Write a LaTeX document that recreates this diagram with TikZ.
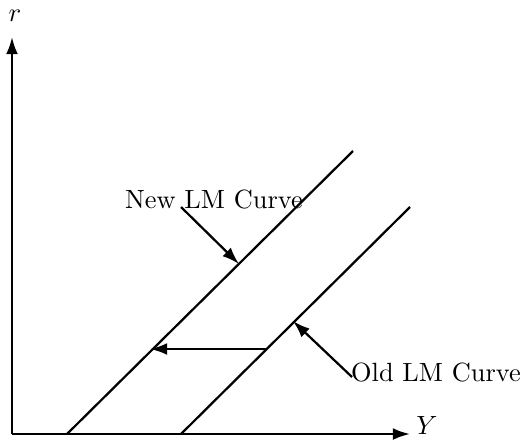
\documentclass[tikz,border=0pt]{standalone}
\usetikzlibrary{arrows.meta}
\begin{document}
\begin{tikzpicture}[x=0.013333cm,y=-0.013333cm,
  ln/.style={line width=0.85pt},
  arr/.style={line width=0.85pt,-{Latex[length=6.5pt,width=4.5pt]}},
  lbl/.style={inner sep=0pt}]
\useasboundingbox (0,0) rectangle (525,441);
\coordinate (O) at (12,434);
\coordinate (ytop) at (12,37);
\coordinate (xend) at (410,434);
\draw[arr] (O) -- (ytop);
\draw[arr] (O) -- (xend);
\node[lbl] (r) at (15,16) {$r$};
\node[lbl] (Y) at (427,425) {$Y$};
% LM curves
\coordinate (n1) at (67,434);
\coordinate (n2) at (353,151);
\coordinate (o1) at (181,434);
\coordinate (o2) at (410,207);
\draw[ln] (n1) -- (n2);
\draw[ln] (o1) -- (o2);
% shift arrow
\coordinate (s1) at (266,349);
\coordinate (s2) at (150,349);
\draw[arr] (s1) -- (s2);
% labels
\node[lbl] (newl) at (214,199) {New LM Curve};
\node[lbl] (oldl) at (436,372) {Old LM Curve};
\coordinate (na) at (181,207);
\coordinate (nb) at (239,264);
\draw[arr] (na) -- (nb);
\coordinate (oa) at (352,377);
\coordinate (ob) at (293,321);
\draw[arr] (oa) -- (ob);
\end{tikzpicture}
\end{document}
